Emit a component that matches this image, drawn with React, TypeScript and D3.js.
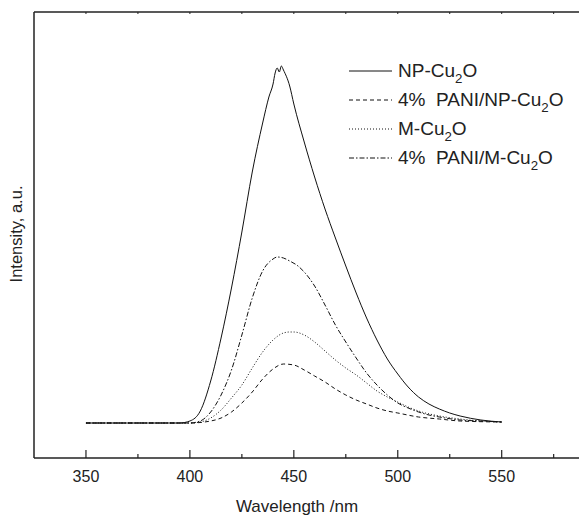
import React from "react";
import * as d3 from "d3";

// Wavelength (nm) / intensity (a.u.) readings for each spectrum
const npWl = [350, 360, 370, 380, 390, 395, 400, 405, 410, 415, 420, 425, 430, 435, 438, 440, 441, 442, 443, 444, 445, 448, 450, 455, 460, 465, 470, 475, 480, 485, 490, 495, 500, 505, 510, 515, 520, 525, 530, 540, 550];
const npVal = [35, 35, 35, 35, 35, 35, 37, 47, 77, 120, 170, 226, 286, 335, 361, 374, 385, 390, 386, 392, 388, 372, 354, 316, 281, 249, 220, 192, 165, 140, 118, 99, 84, 71, 61, 54, 49, 45, 42, 38, 36];

const pNpWl = [350, 370, 390, 400, 410, 415, 420, 425, 430, 435, 440, 445, 450, 455, 460, 465, 470, 475, 480, 485, 490, 495, 500, 510, 520, 530, 550];
const pNpVal = [35, 35, 35, 35, 37, 40, 46, 55, 66, 79, 89, 94, 93, 88, 82, 76, 69, 63, 58, 54, 50, 47, 45, 41, 39, 37, 36];

const mWl = [350, 370, 390, 400, 405, 410, 415, 420, 425, 430, 435, 440, 445, 448, 450, 455, 460, 465, 470, 475, 480, 485, 490, 495, 500, 505, 510, 520, 530, 540, 550];
const mVal = [35, 35, 35, 35, 36, 40, 48, 60, 73, 90, 106, 118, 125, 126, 126, 123, 116, 107, 98, 90, 83, 75, 67, 61, 56, 51, 47, 42, 39, 37, 36];

const pMWl = [350, 370, 390, 400, 405, 410, 415, 420, 425, 430, 435, 440, 442, 445, 448, 452, 455, 460, 465, 470, 475, 480, 485, 490, 495, 500, 505, 510, 515, 520, 530, 540, 550];
const pMVal = [35, 35, 35, 35, 37, 46, 63, 88, 123, 160, 187, 199, 201, 200, 197, 192, 186, 172, 153, 133, 116, 100, 85, 73, 63, 55, 50, 46, 43, 41, 38, 37, 36];

const seriesNames = ["NP-Cu|2|O", "4%  PANI/NP-Cu|2|O", "M-Cu|2|O", "4%  PANI/M-Cu|2|O"];
const xTicks = [350, 400, 450, 500, 550];

const series = [
  { name: seriesNames[0], wl: npWl, val: npVal, dash: "none" },
  { name: seriesNames[1], wl: pNpWl, val: pNpVal, dash: "4 3" },
  { name: seriesNames[2], wl: mWl, val: mVal, dash: "1 2" },
  { name: seriesNames[3], wl: pMWl, val: pMVal, dash: "5 2 1.5 2" },
];

const FONT = "'Liberation Sans', Arial, Helvetica, sans-serif";

function Label({ text, x, y, size }: { text: string; x: number; y: number; size: number }) {
  const parts = text.split("|");
  return (
    <text x={x} y={y} fontSize={size} fontFamily={FONT} fill="#222" style={{ whiteSpace: "pre" }}>
      <tspan>{parts[0]}</tspan>
      <tspan fontSize={size * 0.7} dy={size * 0.3}>{parts[1]}</tspan>
      <tspan dy={-size * 0.3}>{parts[2]}</tspan>
    </text>
  );
}

export default function App() {
  const W = 579, H = 517;
  const left = 34, top = 12, bottom = 458;
  const x = d3.scaleLinear().domain([325, 550]).range([left, 501.7]);
  const y = d3.scaleLinear().domain([0, 446]).range([bottom, top]);
  const line = d3.line<[number, number]>().x(d => x(d[0])).y(d => y(d[1])).curve(d3.curveMonotoneX);
  const minor = d3.range(325, 600, 25);
  const legendY = [71, 100, 129, 158];

  return (
    <svg width={W} height={H} style={{ position: "absolute", left: 0, top: 0 }}>
      <rect width={W} height={H} fill="#fff" />
      {series.map((s, i) => (
        <path key={i} d={line(s.wl.map((w, j) => [w, s.val[j]] as [number, number])) || ""}
          fill="none" stroke="#111" strokeWidth={1} strokeDasharray={s.dash} />
      ))}
      {/* axes frame */}
      <line x1={left} x2={W} y1={top} y2={top} stroke="#222" strokeWidth={1.5} />
      <line x1={left} x2={W} y1={bottom} y2={bottom} stroke="#222" strokeWidth={1.5} />
      <line x1={left} x2={left} y1={top} y2={bottom} stroke="#222" strokeWidth={1.5} />
      {minor.filter(v => x(v) > left + 2 && x(v) < W).map(v => {
        const major = xTicks.includes(v);
        return (
          <g key={v}>
            <line x1={x(v)} x2={x(v)} y1={bottom} y2={bottom - (major ? 8 : 4)} stroke="#222" strokeWidth={1.2} />
            <line x1={x(v)} x2={x(v)} y1={top} y2={top + 2} stroke="#222" strokeWidth={1} />
          </g>
        );
      })}
      {xTicks.map(v => (
        <text key={v} x={x(v)} y={482} textAnchor="middle" fontSize={16} fontFamily={FONT} fill="#222">{v}</text>
      ))}
      <text x={297} y={512} textAnchor="middle" fontSize={17} fontFamily={FONT} fill="#222">Wavelength /nm</text>
      <text transform={`translate(22,234) rotate(-90)`} textAnchor="middle" fontSize={16.5} fontFamily={FONT} fill="#222">Intensity, a.u.</text>
      {series.map((s, i) => (
        <g key={i}>
          <line x1={349} x2={392} y1={legendY[i]} y2={legendY[i]} stroke="#111" strokeWidth={1} strokeDasharray={s.dash} />
          <Label text={s.name} x={398} y={legendY[i] + 6} size={19} />
        </g>
      ))}
    </svg>
  );
}
